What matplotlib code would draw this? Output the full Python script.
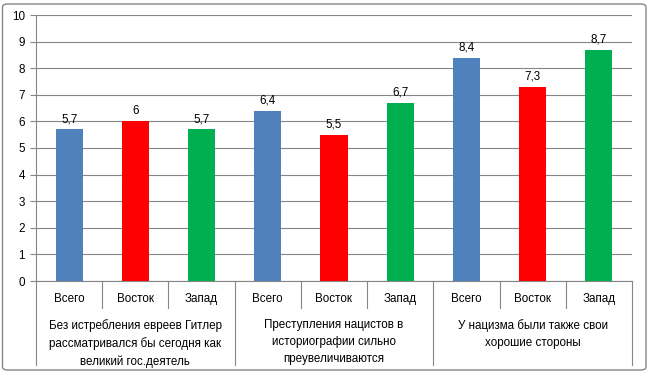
import matplotlib
matplotlib.use("Agg")
import matplotlib.pyplot as plt
from matplotlib.patches import FancyBboxPatch
import matplotlib.transforms as mtransforms

groups = ["Без истребления евреев Гитлер\nрассматривался бы сегодня как\nвеликий гос.деятель",
          "Преступления нацистов в\nисториографии сильно\nпреувеличиваются",
          "У нацизма были также свои\nхорошие стороны"]
subcats = ["Всего", "Восток", "Запад"]
values = [5.7, 6.0, 5.7, 6.4, 5.5, 6.7, 8.4, 7.3, 8.7]
colors_sub = ["#4F81BD", "#FF0000", "#00B050"]
yticks = list(range(0, 11))

plt.rcParams['font.family'] = ['Liberation Sans', 'DejaVu Sans']
fs = 8.4
gray = "#868686"

fig = plt.figure(figsize=(6.49, 3.74), dpi=100)
W, H = 649, 374
ax = fig.add_axes([36 / W, 1 - 281 / H, (632 - 36) / W, (281 - 15) / H])

n = len(values)
xs = list(range(n))
cols = [colors_sub[i % 3] for i in range(n)]
ax.bar(xs, values, width=0.41, color=cols, zorder=3)

for x, v in zip(xs, values):
    lbl = (f"{v:.1f}".rstrip("0").rstrip(".")).replace(".", ",")
    ax.annotate(lbl, (x, v), xytext=(0, 3), textcoords="offset points",
                ha="center", va="bottom", fontsize=fs)

ax.set_xlim(-0.5, n - 0.5)
ax.set_ylim(0, 10)
ax.set_yticks(yticks)
ax.set_yticklabels([str(t) for t in yticks], fontsize=fs)
ax.tick_params(axis='y', length=4, color=gray, width=0.8, pad=4)
ax.set_xticks([])
ax.grid(axis='y', color=gray, linewidth=0.8, zorder=0)
for s in ["top", "right"]:
    ax.spines[s].set_visible(False)
for s in ["left", "bottom"]:
    ax.spines[s].set_color(gray)
    ax.spines[s].set_linewidth(0.8)

trans = mtransforms.blended_transform_factory(ax.transData, ax.transAxes)
short = -(308 - 281) / 266
long_ = -(365 - 281) / 266
for i in range(n + 1):
    xsep = i - 0.5
    y1 = long_ if i % 3 == 0 else short
    ax.plot([xsep, xsep], [0, y1], transform=trans, color=gray, lw=0.8, clip_on=False)

for i in range(n):
    ax.text(i, -(299 - 281) / 266, subcats[i % 3], transform=trans, ha="center",
            va="center", fontsize=fs)

for g, name in enumerate(groups):
    ax.text(3 * g + 1, -(319 - 281) / 266, name, transform=trans, ha="center",
            va="top", fontsize=fs, linespacing=1.55)

border = FancyBboxPatch((2.5 / W, 4 / H), (646 - 2.5) / W, (370 - 4) / H,
                        boxstyle="round,pad=0,rounding_size=0.008",
                        transform=fig.transFigure, fill=False, edgecolor=gray, lw=1.0)
fig.patches.append(border)

fig.savefig("out.png", dpi=100)
